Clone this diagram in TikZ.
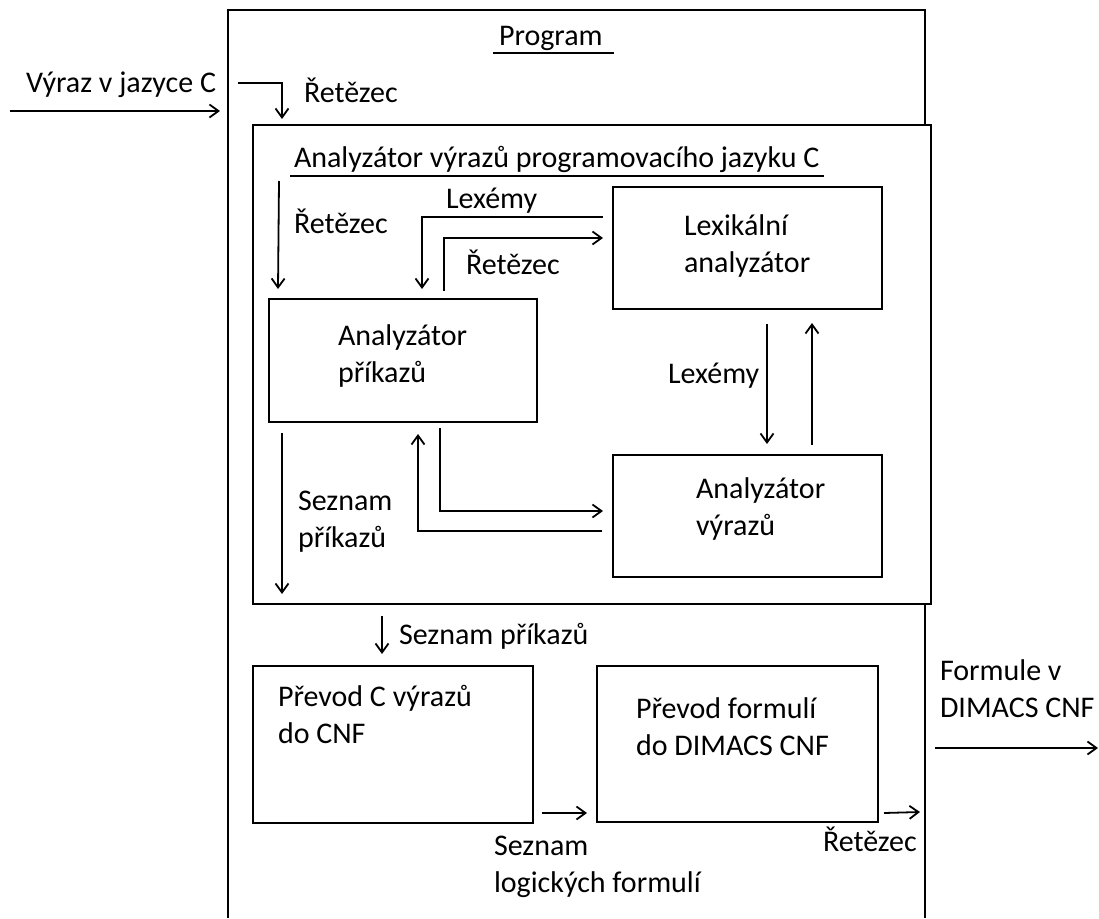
\documentclass[tikz,border=0pt]{standalone}
\usepackage{fontspec}
\setmainfont{Carlito}
\usetikzlibrary{arrows.meta}

\begin{document}
\begin{tikzpicture}[x=1pt,y=-1pt,line width=2,
    blok/.style={draw,fill=white,line width=2,inner sep=0},
    sipka/.style={line width=1.8,-{Straight Barb[length=9,width=13]}},
    popis/.style={inner sep=0,anchor=base west,align=left,font=\fontsize{30}{36.5}\selectfont}]
  \useasboundingbox (0,0) rectangle (1099,918);
      % ramecek programu (dole otevreny)
      \coordinate (P1) at (228,918);
         \coordinate (P2) at (228,10);
            \coordinate (P3) at (925,10);
               \coordinate (P4) at (925,918);
  \draw (P1)--(P2)--(P3)--(P4);
  \node[popis] (program) at (498,45) {Program};
  \draw ([shift={(-5,8)}]program.base west)--([shift={(10,8)}]program.base east);
      % bloky
      \node[blok,minimum width=678,minimum height=479] (cast) at (592,364.5) {};
         \node[blok,minimum width=268,minimum height=123] (prik) at (403,360.5) {};
            \node[blok,minimum width=269,minimum height=122] (lex) at (747.5,248) {};
               \node[blok,minimum width=269,minimum height=122] (vyr) at (747.5,516) {};
            \node[blok,minimum width=280,minimum height=157] (cnf) at (393,744.5) {};
         \node[blok,minimum width=281,minimum height=156] (dimacs) at (737.5,744) {};
  \node[popis] (nazev) at (293,167) {Analyzátor výrazů programovacího jazyku C};
  \draw ([shift={(-3,9)}]nazev.base west)--([shift={(4,9)}]nazev.base east);
  % u viceradkovych popisu je base na posledni radce
  \node[popis] (tprik) at (337,382) {Analyzátor\\příkazů};
  \node[popis] (tlex) at (683,272) {Lexikální\\analyzátor};
  \node[popis] (tvyr) at (695,535) {Analyzátor\\výrazů};
  \node[popis] (tcnf) at (277,743) {Převod C výrazů\\do CNF};
  \node[popis] (tdim) at (635,755) {Převod formulí\\do DIMACS CNF};
      % vstup a vystup
      \coordinate (vstup) at (10,111);
         \coordinate (vstupK) at (220,111);
            \coordinate (vystup) at (935,748);
               \coordinate (vystupK) at (1098,748);
  \draw[sipka] (vstup)--(vstupK);
  \node[popis] at (25,92) {Výraz v jazyce C};
  \draw[sipka] (vystup)--(vystupK);
  \node[popis] at (939,717) {Formule v\\DIMACS CNF};
  \coordinate (r0) at (238,83);
  \draw[sipka] (r0) -| ([shift={(30,-5)}]cast.north west);
  \node[popis] at (303,102) {Řetězec};
      % uvnitr analyzatoru
      \coordinate (r1) at (279,181);
  \draw[sipka] (r1)--([shift={(10,-9)}]prik.north west);
  \node[popis] at (293,233) {Řetězec};
  \draw[sipka] ([shift={(-9,31)}]lex.north west) -| ([shift={(154,-9)}]prik.north west);
  \node[popis] at (445,208) {Lexémy};
  \draw[sipka] ([shift={(176,-7)}]prik.north west) |- ([shift={(-9,52)}]lex.north west);
  \node[popis] at (465,274) {Řetězec};
  \draw[sipka] ([shift={(155,14)}]lex.south west)--([shift={(155,-10)}]vyr.north west);
  \draw[sipka] ([shift={(200,-9)}]vyr.north west)--([shift={(200,13)}]lex.south west);
  \node[popis] at (667,383) {Lexémy};
  \draw[sipka] ([shift={(172,5)}]prik.south west) |- ([shift={(-9,57)}]vyr.north west);
  \draw[sipka] ([shift={(-10,77)}]vyr.north west) -| ([shift={(150,11)}]prik.south west);
  \draw[sipka] ([shift={(14,10)}]prik.south west)--([shift={(30,-11)}]cast.south west);
  \node[popis] at (297,547) {Seznam\\příkazů};
      % prevody
  \draw[sipka] ([shift={(130,11)}]cast.south west)--([shift={(130,-11)}]cnf.north west);
  \node[popis] at (398,644) {Seznam příkazů};
  \draw[sipka] ([shift={(8,-11)}]cnf.south east)--([shift={(-9,-10)}]dimacs.south west);
  \node[popis] at (493,892) {Seznam\\logických formulí};
      \coordinate (konec) at (920,812);
  \draw[sipka] ([shift={(5,-10)}]dimacs.south east)--(konec);
  \node[popis] at (822,851) {Řetězec};
\end{tikzpicture}
\end{document}
